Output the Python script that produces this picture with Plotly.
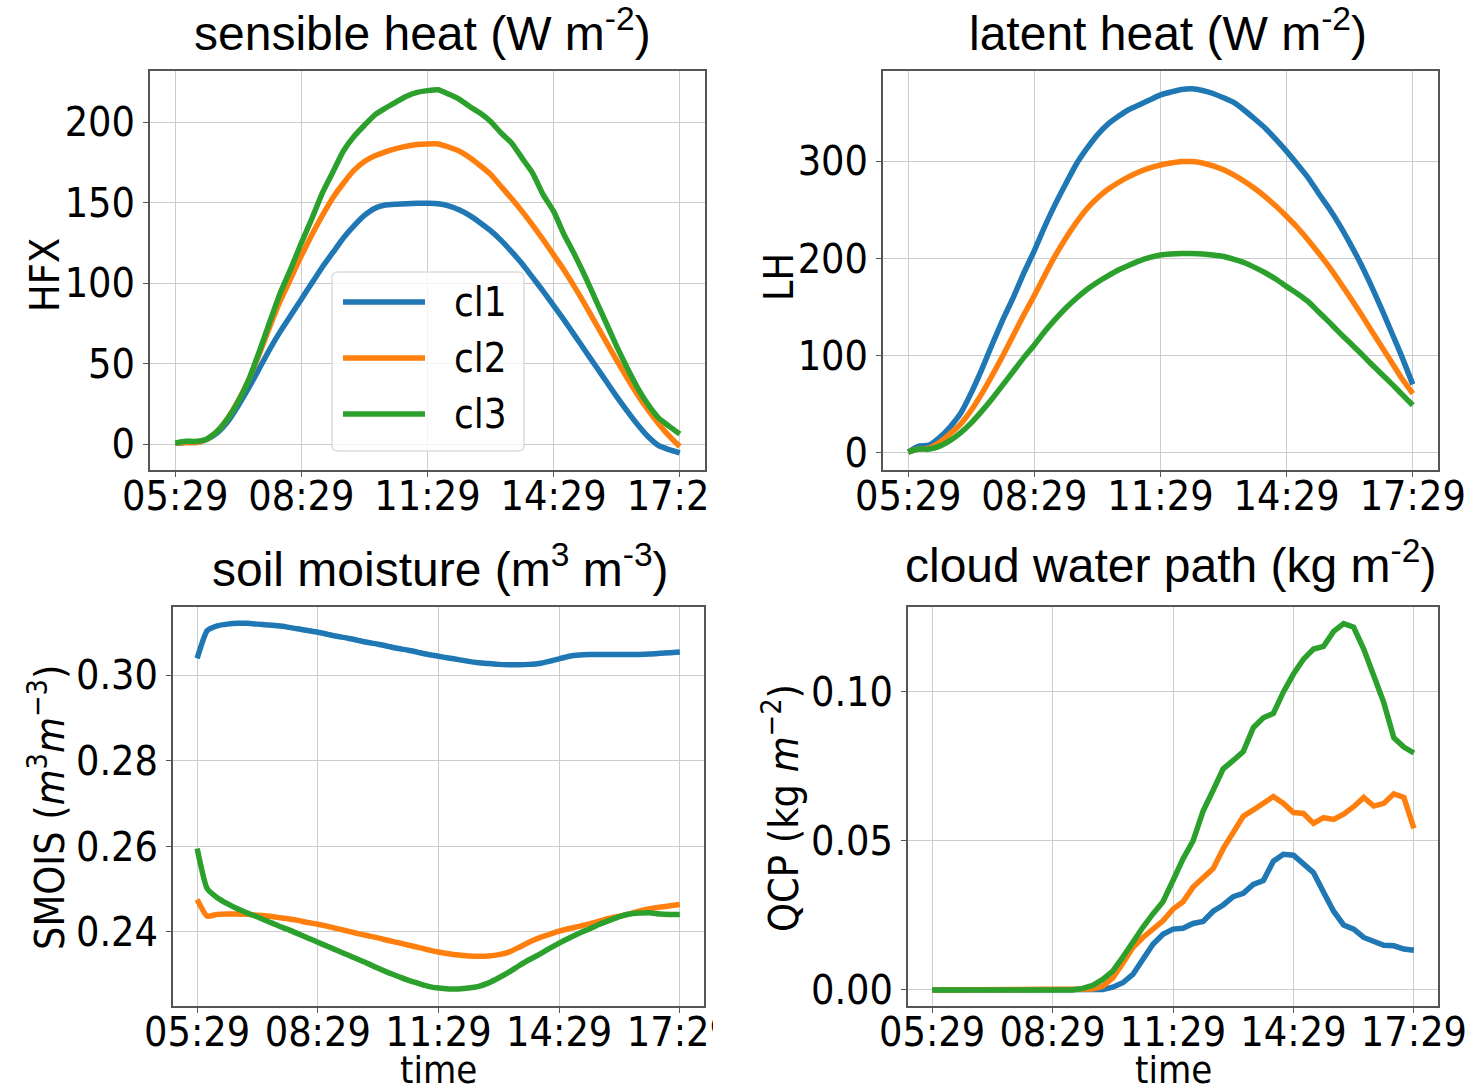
import plotly.graph_objects as go
import pandas as pd

# ---------------- data ----------------
times = pd.date_range("2000-01-01 05:29", periods=49, freq="15min")
tick_times = ["2000-01-01 05:29", "2000-01-01 08:29", "2000-01-01 11:29",
              "2000-01-01 14:29", "2000-01-01 17:29"]
series_names = ["cl1", "cl2", "cl3"]
colors = ["#1f77b4", "#ff7f0e", "#2ca02c"]

hfx_cl1 = [0.5, 1, 1, 3, 7, 14, 24, 35, 47, 59, 70, 80, 90, 100, 110, 119, 128, 135.5, 142, 146.5,
           148.5, 149, 149.3, 149.5, 149.5, 149.3, 148, 145.5, 142, 137.5, 132.5, 126.5, 119.5, 112,
           103.5, 95, 86, 77, 67.5, 58, 48.5, 39, 29.5, 20.5, 12, 4.5, -1, -3.5, -5.5]
hfx_cl2 = [0.5, 1, 1, 3, 8, 16, 27, 40, 56, 73, 89, 103, 117, 130, 142, 153, 162, 170, 175.5, 179,
           181.5, 183.5, 185, 186, 186.4, 186.4, 184.5, 182, 178, 173, 167.5, 160, 152.5, 144.5, 136,
           127, 117.5, 108, 97.5, 86.5, 75, 63.5, 52, 41, 30.5, 21, 12.5, 5, -1.5]
hfx_cl3 = [0.6, 1.7, 1.7, 3, 8, 16, 26.5, 40, 57.5, 76, 94, 109, 125, 140, 156, 169, 182, 191, 198,
           204.5, 208.7, 212.4, 216, 218.4, 219.5, 220, 217.4, 214.3, 209.7, 205.6, 200.4, 193.2, 187,
           177.6, 168.3, 154.9, 144.5, 130, 117.6, 104.1, 89.6, 75.2, 60.7, 47.2, 34.8, 24.4, 16.1, 11, 6.2]

lh_cl1 = [1, 7, 8, 16, 27, 41, 62, 86, 112, 137, 160, 185, 208, 233, 256, 277, 297, 313, 327, 338,
          346, 353, 358, 363, 368, 371, 373.6, 374.3, 372.6, 369.5, 365, 360, 352, 343, 333.5, 322,
          310, 297, 283.6, 267.5, 252, 235, 216, 195.5, 173, 149, 123.6, 98, 70.5]
lh_cl2 = [1, 4, 5, 11, 20, 30, 44, 61, 80, 100, 121, 142, 162, 183, 203, 221, 237, 251, 262, 271,
          278, 284, 289, 293, 296, 298, 299.5, 299.5, 298, 295, 291, 285.5, 279, 271.5, 263, 253.5,
          243, 232, 219.5, 206, 192, 176.5, 160.5, 144, 127, 110, 93, 76, 61]
lh_cl3 = [1, 4, 4, 7, 13, 21, 31, 43, 56, 70, 84, 98, 111, 125, 137.5, 149, 159, 168, 175.5, 182,
          188, 193, 197.5, 201, 203.5, 204.5, 205, 205, 204.5, 203.5, 202, 199, 195.5, 190.5, 185,
          178.5, 171, 164, 156, 145.5, 135, 124, 113.5, 103, 92, 81.5, 71, 60, 49]

smois_cl1 = [0.3039, 0.3104, 0.3115, 0.3119, 0.3121, 0.3121, 0.3119, 0.3117, 0.3115, 0.3112, 0.3108,
             0.3104, 0.3100, 0.3095, 0.3090, 0.3086, 0.3081, 0.3076, 0.3072, 0.3067, 0.3062, 0.3058,
             0.3053, 0.3048, 0.3044, 0.3040, 0.3036, 0.3032, 0.3029, 0.3027, 0.3025, 0.3024, 0.3024,
             0.3025, 0.3027, 0.3032, 0.3038, 0.3044, 0.3047, 0.3048, 0.3048, 0.3048, 0.3048, 0.3048,
             0.3048, 0.3049, 0.3051, 0.3052, 0.3054]
smois_cl2 = [0.2476, 0.2437, 0.2441, 0.2442, 0.2442, 0.2441, 0.2439, 0.2437, 0.2434, 0.2431, 0.2427,
             0.2422, 0.2418, 0.2413, 0.2407, 0.2402, 0.2396, 0.2391, 0.2386, 0.2380, 0.2375, 0.2369,
             0.2364, 0.2358, 0.2353, 0.2349, 0.2346, 0.2344, 0.2343, 0.2344, 0.2347, 0.2353, 0.2364,
             0.2376, 0.2386, 0.2394, 0.2402, 0.2408, 0.2413, 0.2419, 0.2425, 0.2432, 0.2437, 0.2442,
             0.2449, 0.2454, 0.2458, 0.2461, 0.2464]
smois_cl3 = [0.2595, 0.2501, 0.2480, 0.2466, 0.2454, 0.2444, 0.2435, 0.2425, 0.2415, 0.2406, 0.2396,
             0.2386, 0.2376, 0.2366, 0.2356, 0.2346, 0.2336, 0.2326, 0.2315, 0.2305, 0.2296, 0.2287,
             0.2280, 0.2273, 0.2269, 0.2267, 0.2267, 0.2269, 0.2273, 0.2281, 0.2293, 0.2306, 0.2321,
             0.2335, 0.2347, 0.2361, 0.2374, 0.2386, 0.2397, 0.2407, 0.2418, 0.2427, 0.2436, 0.2442,
             0.2444, 0.2445, 0.2442, 0.2441, 0.2441]

qcp_cl1 = [0, 0, 0, 0, 0, 0, 0, 0, 0, 0, 0, 0, 0, 0, 0, 0, 0, 0.0001, 0.0009, 0.0024, 0.0052, 0.0102,
           0.0153, 0.0187, 0.0204, 0.0207, 0.0223, 0.0230, 0.0264, 0.0285, 0.0313, 0.0324, 0.0354,
           0.0367, 0.0432, 0.0455, 0.0452, 0.0423, 0.0393, 0.0328, 0.0264, 0.0218, 0.0204, 0.0176,
           0.0164, 0.0150, 0.0148, 0.0137, 0.0133]
qcp_cl2 = [0, 0, 0, 0, 0, 0, 0, 0, 0, 0, 0, 0, 0, 0, 0, 0, 0.0003, 0.0012, 0.0040, 0.0090, 0.0142,
           0.0176, 0.0207, 0.0232, 0.0271, 0.0296, 0.0345, 0.0373, 0.0407, 0.0474, 0.0525, 0.0583,
           0.0604, 0.0624, 0.0649, 0.0626, 0.0595, 0.0592, 0.0559, 0.0578, 0.0572, 0.0590, 0.0615,
           0.0646, 0.0617, 0.0626, 0.0658, 0.0646, 0.0542]
qcp_cl3 = [0, 0, 0, 0, 0, 0, 0, 0, 0, 0, 0, 0, 0, 0, 0, 0.0005, 0.0015, 0.0035, 0.0063, 0.0110,
           0.0164, 0.0210, 0.0255, 0.0296, 0.0367, 0.0440, 0.0500, 0.0600, 0.0670, 0.0742, 0.0770,
           0.0800, 0.0880, 0.0913, 0.0928, 0.1000, 0.1060, 0.1110, 0.1144, 0.1153, 0.1203, 0.1229,
           0.1217, 0.1144, 0.1054, 0.0964, 0.0846, 0.0815, 0.0795]

panel_titles = ["sensible heat (W m<sup>-2</sup>)", "latent heat (W m<sup>-2</sup>)",
                "soil moisture (m<sup>3</sup> m<sup>-3</sup>)", "cloud water path (kg m<sup>-2</sup>)"]
y_titles = ["HFX", "LH", "SMOIS (<i>m</i><sup>3</sup><i>m</i><sup>\u22123</sup>)",
            "QCP (kg <i>m</i><sup>\u22122</sup>)"]
x_title = "time"

# ---------------- layout helpers ----------------
W, H = 1475, 1091
def px(x):
    return x / W
def py(y):
    return 1 - y / H

FAMILY = "DejaVu Sans Condensed, Liberation Sans Narrow, DejaVu Sans"
TICK_FONT = dict(family=FAMILY, size=41, color="black")
TITLE_FONT = dict(family="Liberation Sans, Arial", size=48, color="black")

panels = [
    dict(data=[hfx_cl1, hfx_cl2, hfx_cl3], x=(150, 705), y=(71, 470), yr=[-16.1, 231.7],
         ticks=[0, 50, 100, 150, 200], fmt=None, xt=False, shape="spline", yt=(45, 275)),
    dict(data=[lh_cl1, lh_cl2, lh_cl3], x=(883, 1438), y=(71, 470), yr=[-17.5, 392.6],
         ticks=[0, 100, 200, 300], fmt=None, xt=False, shape="spline", yt=(779, 277)),
    dict(data=[smois_cl1, smois_cl2, smois_cl3], x=(173, 704), y=(607, 1006), yr=[0.2227, 0.3159],
         ticks=[0.24, 0.26, 0.28, 0.30], fmt=".2f", xt=True, shape="spline", yt=(47, 808)),
    dict(data=[qcp_cl1, qcp_cl2, qcp_cl3], x=(908, 1438), y=(607, 1006), yr=[-0.0054, 0.1285],
         ticks=[0.0, 0.05, 0.10], fmt=".2f", xt=True, shape="linear", yt=(781, 808)),
]

fig = go.Figure()
layout = dict(width=W, height=H, margin=dict(l=0, r=0, t=0, b=0, autoexpand=False),
              paper_bgcolor="white", plot_bgcolor="white", showlegend=False)

for k, p in enumerate(panels):
    n = "" if k == 0 else str(k + 1)
    for s in range(3):
        line = dict(color=colors[s], width=5.5, shape=p["shape"])
        if p["shape"] == "spline":
            line["smoothing"] = 0.5
        fig.add_trace(go.Scatter(x=times, y=p["data"][s], mode="lines", name=series_names[s],
                                 line=line, xaxis="x" + n, yaxis="y" + n))
    layout["xaxis" + n] = dict(
        domain=[px(p["x"][0]), px(p["x"][1])], anchor="y" + n, automargin=False,
        range=["2000-01-01 04:53", "2000-01-01 18:05"],
        tickvals=tick_times, tickformat="%H:%M", tickfont=TICK_FONT,
        showgrid=True, gridcolor="#cccccc", gridwidth=1,
        showline=True, linecolor="#555555", linewidth=1.5, mirror=True,
        ticks="outside", ticklen=5, tickcolor="#555555", zeroline=False,
        ticklabelstandoff=-16,
    )
    ya = dict(
        domain=[py(p["y"][1]), py(p["y"][0])], anchor="x" + n, automargin=False,
        range=p["yr"], tickvals=p["ticks"], tickfont=TICK_FONT,
        showgrid=True, gridcolor="#cccccc", gridwidth=1,
        showline=True, linecolor="#555555", linewidth=1.5, mirror=True,
        ticks="outside", ticklen=5, tickcolor="#555555", zeroline=False,
    )
    if p["fmt"]:
        ya["tickformat"] = p["fmt"]
    layout["yaxis" + n] = ya

fig.update_layout(**layout)

# y-axis titles (rotated)
for k, p in enumerate(panels):
    fig.add_annotation(text=y_titles[k], x=px(p["yt"][0]), y=py(p["yt"][1]), xref="paper",
                       yref="paper", xanchor="center", yanchor="middle", textangle=-90,
                       showarrow=False, font=TICK_FONT)

# panel titles
title_pos = [(423, 30), (1168, 30), (440, 566), (1170, 562)]
for t, (tx, ty) in zip(panel_titles, title_pos):
    fig.add_annotation(text=t, x=px(tx), y=py(ty), xref="paper", yref="paper",
                       xanchor="center", yanchor="middle", showarrow=False, font=TITLE_FONT)

# x-axis titles under the bottom panels
for cx in (438, 1173):
    fig.add_annotation(text=x_title, x=px(cx), y=py(1070), xref="paper", yref="paper",
                       xanchor="center", yanchor="middle", showarrow=False,
                       font=dict(family=FAMILY, size=38, color="black"))

# legend (matplotlib style) in first panel
def rounded_rect(x0, y0, x1, y1, r):
    rx, ry = r / W, r / H
    X0, X1 = px(x0), px(x1)
    Y0, Y1 = py(y1), py(y0)
    return (f"M{X0+rx},{Y0} L{X1-rx},{Y0} Q{X1},{Y0} {X1},{Y0+ry} L{X1},{Y1-ry} "
            f"Q{X1},{Y1} {X1-rx},{Y1} L{X0+rx},{Y1} Q{X0},{Y1} {X0},{Y1-ry} "
            f"L{X0},{Y0+ry} Q{X0},{Y0} {X0+rx},{Y0} Z")

shapes = [dict(type="path", path=rounded_rect(332, 272, 524, 451, 6), xref="paper", yref="paper",
               fillcolor="rgba(255,255,255,0.8)", line=dict(color="#dddddd", width=1.5), layer="above")]
for s in range(3):
    yy = 302 + 56 * s
    shapes.append(dict(type="line", x0=px(343), x1=px(425), y0=py(yy), y1=py(yy),
                       xref="paper", yref="paper", line=dict(color=colors[s], width=5.5), layer="above"))
    fig.add_annotation(text=series_names[s], x=px(452), y=py(yy), xref="paper", yref="paper",
                       xanchor="left", yanchor="middle", showarrow=False,
                       font=dict(family=FAMILY, size=40, color="black"))

# clip the cut-off tick labels at the right edge of the left panels
shapes.append(dict(type="rect", x0=px(707), x1=px(748), y0=py(520), y1=py(472), xref="paper",
                   yref="paper", fillcolor="white", line=dict(width=0), layer="above"))
shapes.append(dict(type="rect", x0=px(713), x1=px(752), y0=py(1048), y1=py(1008), xref="paper",
                   yref="paper", fillcolor="white", line=dict(width=0), layer="above"))
fig.update_layout(shapes=shapes)

fig.write_html("out.html")
